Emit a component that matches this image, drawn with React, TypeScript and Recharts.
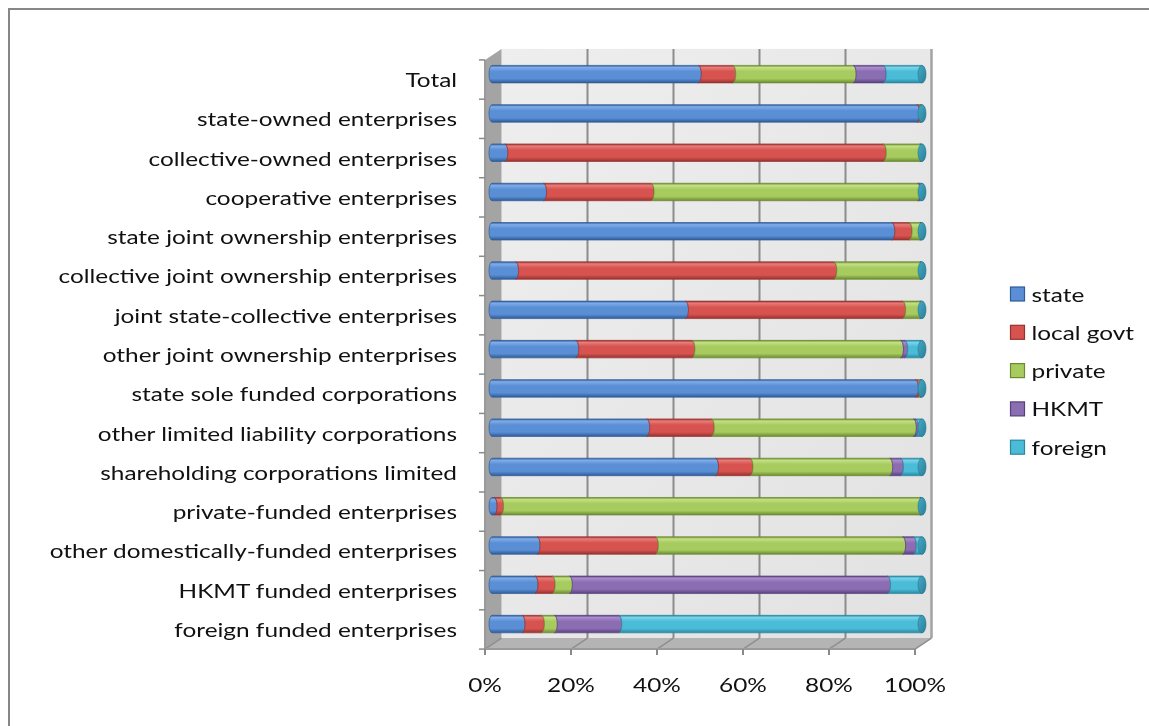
import React from 'react';
import { BarChart, Bar, XAxis, YAxis, ReferenceArea } from 'recharts';

const categories = [
  'Total',
  'state-owned enterprises',
  'collective-owned enterprises',
  'cooperative enterprises',
  'state joint ownership enterprises',
  'collective joint ownership enterprises',
  'joint state-collective enterprises',
  'other joint ownership enterprises',
  'state sole funded corporations',
  'other limited liability corporations',
  'shareholding corporations limited',
  'private-funded enterprises',
  'other domestically-funded enterprises',
  'HKMT funded enterprises',
  'foreign funded enterprises',
];

const stateShare = [48, 98.8, 3, 12, 93, 5.5, 45, 19.5, 98.5, 36, 52, 0.5, 10.5, 10, 7];
const localGovtShare = [8, 0.5, 88, 25, 4, 74, 50.5, 27, 0.6, 15, 8, 1.5, 27.5, 4, 4.5];
const privateShare = [28, 0.3, 8.5, 62, 2.5, 20, 4, 48.5, 0.4, 47, 32.5, 97.5, 57.5, 4, 3];
const hkmtShare = [7, 0.1, 0.2, 0.5, 0.2, 0.2, 0.1, 1, 0.2, 0.5, 2.5, 0.2, 2.5, 74, 15];
const foreignShare = [9, 0.3, 0.3, 0.5, 0.3, 0.3, 0.4, 4, 0.3, 1.5, 5, 0.3, 2, 8, 70.5];

const seriesNames = ['state', 'local govt', 'private', 'HKMT', 'foreign'];
const seriesValues = [stateShare, localGovtShare, privateShare, hkmtShare, foreignShare];
const seriesColors = ['#5A8FD6', '#D6534F', '#A7CB5F', '#8B6DB2', '#4BBCD8'];
const seriesLight = ['#80ACE8', '#E87C79', '#C3E086', '#AA8DCD', '#7BD3EA'];
const seriesDark = ['#2F5B98', '#963230', '#6C8A31', '#57407E', '#2A87A0'];

const xTicks = [0, 0.2, 0.4, 0.6, 0.8, 1];
const xTickLabels = ['0%', '20%', '40%', '60%', '80%', '100%'];

const data = categories.map((name, i) => {
  const row: Record<string, any> = { name };
  seriesNames.forEach((s, si) => {
    row[s] = seriesValues[si][i];
  });
  return row;
});

const FONT = 'Lato, "Open Sans", sans-serif';
const FONT_SIZE = 19.5;
const SX = 1.25;
const BACK_DX = 9.5;
const FRONT_DX = 7;
const DY = 5.5;

const makeShape = (si: number) => (props: any) => {
  const { x, y, width, height } = props;
  if (x == null || y == null || width == null || height == null) return <g />;
  const w = Math.max(0, width);
  const h = height;
  const rx = 3;
  const ry = h / 2;
  const leftArc =
    si === 0 ? `A ${rx} ${ry} 0 0 1 ${x} ${y}` : `A ${rx} ${ry} 0 0 0 ${x} ${y}`;
  const d = `M ${x} ${y} L ${x + w} ${y} A ${rx} ${ry} 0 0 1 ${x + w} ${y + h} L ${x} ${y + h} ${leftArc} Z`;
  return (
    <g>
      <path d={d} fill={`url(#cyl${si})`} stroke={seriesDark[si]} strokeWidth={0.7} />
      {si === seriesNames.length - 1 && (
        <ellipse
          cx={x + w}
          cy={y + h / 2}
          rx={rx + 1}
          ry={ry}
          fill="url(#capGrad)"
          stroke="#22778f"
          strokeWidth={0.6}
        />
      )}
    </g>
  );
};

const WallShape = (props: any) => {
  const { x, y, width: W, height: H } = props;
  if (x == null || W == null) return <g />;
  const bx = x + BACK_DX;
  const by = y - DY;
  const fx = x - FRONT_DX;
  const fy = y + DY;
  const backBottom = y + H - DY;
  const frontBottom = y + H + DY;
  const n = categories.length;
  return (
    <g>
      <defs>
        <linearGradient id="backWall" x1="0" y1="0" x2="1" y2="1">
          <stop offset="0" stopColor="#eeeeee" />
          <stop offset="1" stopColor="#e2e2e2" />
        </linearGradient>
      </defs>
      <rect x={bx} y={by} width={W} height={H} fill="url(#backWall)" />
      {xTicks.slice(1, -1).map((t) => (
        <line
          key={`g${t}`}
          x1={bx + W * t}
          x2={bx + W * t}
          y1={by}
          y2={backBottom}
          stroke="#8c8c8c"
          strokeWidth={2}
        />
      ))}
      <line x1={bx + W} x2={bx + W} y1={by} y2={backBottom} stroke="#a3a3a3" strokeWidth={2.5} />
      <polygon
        points={`${fx},${fy} ${bx},${by} ${bx},${backBottom} ${fx},${frontBottom}`}
        fill="#a4a4a4"
      />
      <polygon
        points={`${fx},${frontBottom} ${fx + W},${frontBottom} ${bx + W},${backBottom} ${bx},${backBottom}`}
        fill="#b4b4b4"
      />
      {xTicks.map((t) => (
        <line
          key={`f${t}`}
          x1={fx + W * t}
          y1={frontBottom}
          x2={bx + W * t}
          y2={backBottom}
          stroke="#8f8f8f"
          strokeWidth={1.5}
        />
      ))}
      <line x1={fx} y1={frontBottom} x2={fx + W} y2={frontBottom} stroke="#9a9a9a" strokeWidth={2} />
      <line x1={fx} y1={fy} x2={fx} y2={frontBottom} stroke="#9a9a9a" strokeWidth={2} />
      {xTicks.map((t) => (
        <line
          key={`t${t}`}
          x1={fx + W * t}
          y1={frontBottom}
          x2={fx + W * t}
          y2={frontBottom + 6}
          stroke="#8a8a8a"
          strokeWidth={2}
        />
      ))}
      {Array.from({ length: n + 1 }, (_, i) => (
        <line
          key={`y${i}`}
          x1={fx - 6}
          x2={fx}
          y1={fy + (H * i) / n}
          y2={fy + (H * i) / n}
          stroke="#8a8a8a"
          strokeWidth={1.5}
        />
      ))}
    </g>
  );
};

const YTick = (props: any) => {
  const { x, y, payload } = props;
  return (
    <g transform={`translate(${x},${y + DY}) scale(${SX},1)`}>
      <text
        x={0}
        y={0}
        textAnchor="end"
        dominantBaseline="central"
        fontFamily={FONT}
        fontSize={FONT_SIZE}
        fill="#111"
      >
        {payload.value}
      </text>
    </g>
  );
};

const XTick = (props: any) => {
  const { x, y, payload, index } = props;
  const label = xTickLabels[index] ?? `${Math.round(payload.value * 100)}%`;
  return (
    <g transform={`translate(${x - FRONT_DX},${y}) scale(${SX},1)`}>
      <text
        x={0}
        y={0}
        textAnchor="middle"
        dominantBaseline="central"
        fontFamily={FONT}
        fontSize={FONT_SIZE}
        fill="#111"
      >
        {label}
      </text>
    </g>
  );
};

const CHART_W = 1141;
const CHART_H = 700;

export default function App() {
  return (
    <div style={{ position: 'relative', width: CHART_W, height: CHART_H, background: '#fff' }}>
      <div
        style={{
          position: 'fixed',
          left: 8,
          top: 8,
          right: -20,
          bottom: -20,
          borderTop: '2px solid #878787',
          borderLeft: '2px solid #878787',
          pointerEvents: 'none',
        }}
      />
      <div style={{ position: 'absolute', left: 0, top: 0 }}>
        <BarChart
          width={CHART_W}
          height={CHART_H}
          data={data}
          layout="vertical"
          stackOffset="expand"
          barSize={17.5}
          margin={{ top: 46.4, right: 227, bottom: 14.4, left: 0 }}
        >
          <defs>
            {seriesNames.map((s, si) => (
              <linearGradient key={s} id={`cyl${si}`} x1="0" y1="0" x2="0" y2="1">
                <stop offset="0" stopColor={seriesDark[si]} />
                <stop offset="0.12" stopColor={seriesLight[si]} />
                <stop offset="0.35" stopColor={seriesColors[si]} />
                <stop offset="0.75" stopColor={seriesColors[si]} />
                <stop offset="1" stopColor={seriesDark[si]} />
              </linearGradient>
            ))}
            <linearGradient id="capGrad" x1="0" y1="0" x2="1" y2="1">
              <stop offset="0" stopColor="#46aac6" />
              <stop offset="1" stopColor="#2a7f98" />
            </linearGradient>
          </defs>
          <XAxis
            type="number"
            domain={[0, 1]}
            ticks={xTicks}
            tick={<XTick />}
            tickSize={0}
            tickMargin={40.4}
            axisLine={false}
            tickLine={false}
            height={50}
            interval={0}
          />
          <YAxis
            type="category"
            dataKey="name"
            width={484}
            tick={<YTick />}
            tickSize={0}
            tickMargin={35}
            axisLine={false}
            tickLine={false}
            interval={0}
          />
          <ReferenceArea x1={0} x2={1} shape={WallShape} ifOverflow="visible" zIndex={-50} />
          {seriesNames.map((s, si) => (
            <Bar
              key={s}
              dataKey={s}
              stackId="a"
              fill={seriesColors[si]}
              shape={makeShape(si)}
              isAnimationActive={false}
            />
          ))}
        </BarChart>
      </div>
      <svg
        width={CHART_W}
        height={CHART_H}
        style={{ position: 'absolute', left: 0, top: 0, pointerEvents: 'none' }}
      >
        {seriesNames.map((s, si) => {
          const cy = 286 + si * 38.3;
          return (
            <g key={s}>
              <rect
                x={1002.5}
                y={cy - 7}
                width={14}
                height={14}
                fill={seriesColors[si]}
                stroke={seriesDark[si]}
                strokeWidth={1.2}
              />
              <g transform={`translate(1023.5,${cy}) scale(${SX},1)`}>
                <text
                  x={0}
                  y={0}
                  dominantBaseline="central"
                  fontFamily={FONT}
                  fontSize={FONT_SIZE}
                  fill="#111"
                >
                  {s}
                </text>
              </g>
            </g>
          );
        })}
      </svg>
    </div>
  );
}
